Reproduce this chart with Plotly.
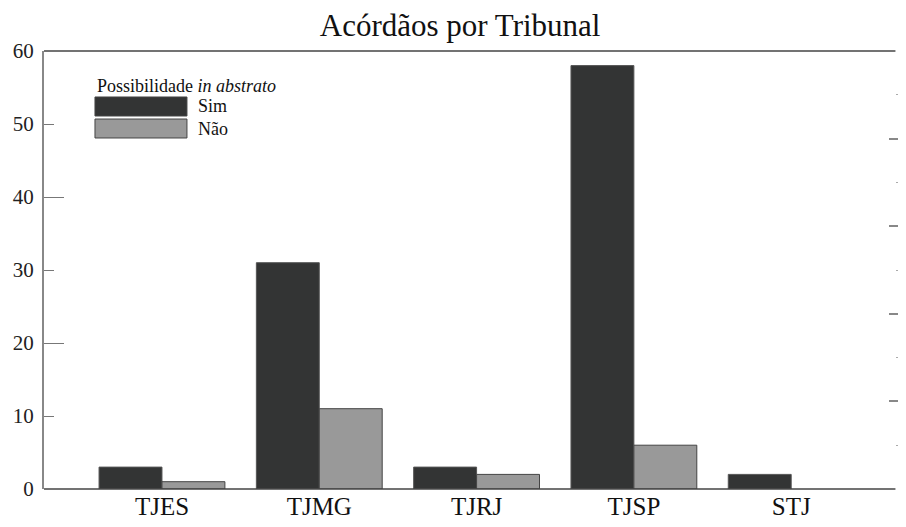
import plotly.graph_objects as go

# dados
tribunais = ["TJES", "TJMG", "TJRJ", "TJSP", "STJ"]
sim = [3, 31, 3, 58, 2]
nao = [1, 11, 2, 6, 0]

FONT = "Liberation Serif, Times New Roman, serif"
COR_SIM = "#333434"
COR_NAO = "#999999"

fig = go.Figure()

fig.add_trace(go.Bar(
    x=tribunais, y=sim, name="Sim",
    marker=dict(color=COR_SIM, line=dict(color="#555555", width=1)),
    showlegend=False
))
fig.add_trace(go.Bar(
    x=tribunais, y=nao, name="Não",
    # sem contorno quando o valor é zero
    marker=dict(color=COR_NAO, line=dict(color="#444444",
                                         width=[1 if v > 0 else 0 for v in nao])),
    showlegend=False
))

# a página tem 8px de margem no body; figura cabe dentro dela
fig.update_layout(
    width=890, height=511,
    margin=dict(l=36, r=0, t=43, b=30),
    paper_bgcolor="white",
    plot_bgcolor="white",
    barmode="group",
    bargap=0.2,
    bargroupgap=0,
    font=dict(family=FONT, color="#222222"),
    title=dict(
        text="Acórdãos por Tribunal",
        x=0.508, xref="container", xanchor="center",
        y=0.967, yref="container", yanchor="middle",
        font=dict(family=FONT, size=31, color="#111111")
    ),
    xaxis=dict(
        range=[-0.75, 4.679],
        showline=False,
        ticks="", showgrid=False, zeroline=False,
        ticklabelstandoff=0,
        tickfont=dict(family=FONT, size=25, color="#111111")
    ),
    yaxis=dict(
        range=[0, 60],
        dtick=10,
        showline=True, linecolor="#888888", linewidth=2,
        ticks="inside", ticklen=10, tickcolor="#777777", tickwidth=1,
        showgrid=False, zeroline=False,
        ticklabelstandoff=4,
        tickfont=dict(family=FONT, size=21, color="#222222")
    ),
    # ticks maiores em 20 e 40
    yaxis3=dict(
        overlaying="y", anchor="x", side="left",
        range=[0, 60],
        tickvals=[20, 40],
        ticks="inside", ticklen=20, tickcolor="#777777", tickwidth=1,
        showticklabels=False, showline=False, showgrid=False, zeroline=False
    ),
    # ticks soltos na borda direita
    yaxis2=dict(
        overlaying="y", anchor="x", side="right",
        range=[0, 5],
        dtick=1,
        ticks="inside", ticklen=9, tickcolor="#888888", tickwidth=2,
        minor=dict(dtick=0.5, ticks="inside", ticklen=2, tickcolor="#aaaaaa", tickwidth=1),
        showticklabels=False, showline=False, showgrid=False, zeroline=False
    ),
)

# traços invisíveis para os eixos auxiliares
fig.add_trace(go.Scatter(x=[tribunais[0]], y=[0], yaxis="y2", mode="markers",
                         marker=dict(opacity=0), showlegend=False, hoverinfo="skip"))
fig.add_trace(go.Scatter(x=[tribunais[0]], y=[0], yaxis="y3", mode="markers",
                         marker=dict(opacity=0), showlegend=False, hoverinfo="skip"))

# linhas de cima e de baixo quase até a borda direita
for yy in (0, 1):
    fig.add_shape(type="line", xref="paper", yref="paper",
                  x0=0, x1=0.997, y0=yy, y1=yy,
                  line=dict(color="#444444", width=1.5))

# legenda desenhada à mão (amostras largas como no original)
fig.add_annotation(
    text="Possibilidade <i>in abstrato</i>",
    x=0.0597, y=0.920, xref="paper", yref="paper",
    xanchor="left", yanchor="middle", showarrow=False,
    font=dict(family=FONT, size=18, color="#111111")
)
legenda = [("Sim", COR_SIM, 0.895, 0.8516), ("Não", COR_NAO, 0.8447, 0.8014)]
for nome, cor, y1, y0 in legenda:
    fig.add_shape(type="rect", xref="paper", yref="paper",
                  x0=0.0597, x1=0.1674, y0=y0, y1=y1,
                  fillcolor=cor, line=dict(color="#444444", width=1))
    fig.add_annotation(
        text=nome, x=0.1780, y=(y0 + y1) / 2, xref="paper", yref="paper",
        xanchor="left", yanchor="middle", showarrow=False,
        font=dict(family=FONT, size=18, color="#111111")
    )

fig.write_html("out.html")
